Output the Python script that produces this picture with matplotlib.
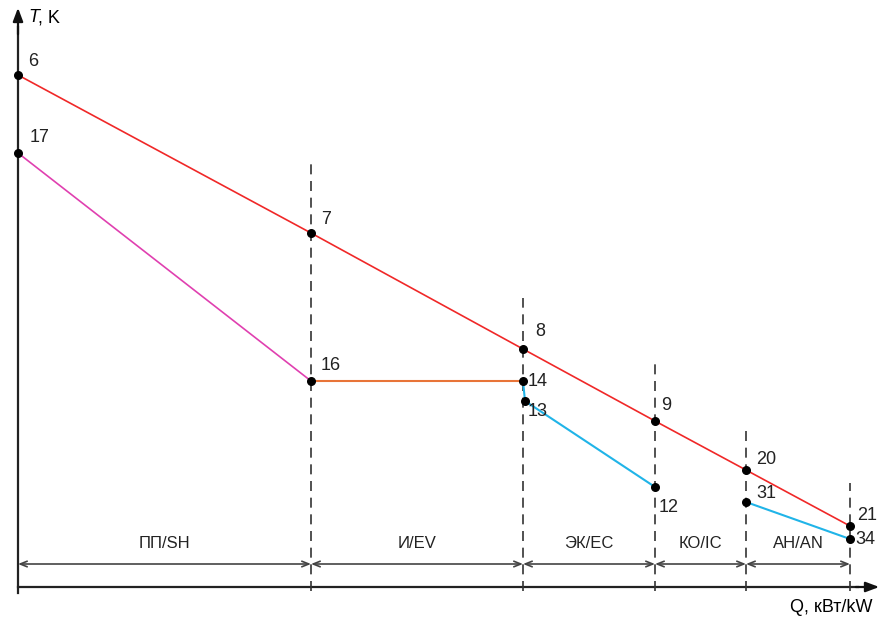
import matplotlib.pyplot as plt

plt.rcParams['font.family'] = ['Liberation Sans Narrow', 'Liberation Sans', 'DejaVu Sans']

# section boundaries along Q and section names
q_bounds = [0, 293, 505, 637, 728, 832]
sections = ['ПП/SH', 'И/EV', 'ЭК/EC', 'КО/IC', 'АН/AN']
dash_top = [427, 289, 224, 159, 104]   # upper end of each dashed boundary line

# hot gas line 6-7-8-9-20-21
gas_q = [0, 293, 505, 637, 728, 832]
gas_t = [512, 354, 238, 166, 117, 61]
gas_lbl = ['6', '7', '8', '9', '20', '21']

# steam/water lines
sh_q, sh_t = [0, 293], [434, 206]            # 17-16
ev_q, ev_t = [293, 505], [206, 206]          # 16-14
ec_q, ec_t = [505, 507, 637], [206, 186, 100]  # 14-13-12
an_q, an_t = [728, 832], [85, 48]            # 31-34

pts = {'17': (0, 434), '16': (293, 206), '14': (505, 206), '13': (507, 186),
       '12': (637, 100), '31': (728, 85), '34': (832, 48)}
offs = {'6': (10, 14), '7': (10, 14), '8': (12, 18), '9': (6, 16), '20': (10, 10),
        '21': (7, 10), '17': (12, 16), '16': (10, 16), '14': (5, 0), '13': (3, -10),
        '12': (4, -20), '31': (10, 8), '34': (5, -1)}

fig = plt.figure(figsize=(8.83, 6.3), dpi=100)
ax = fig.add_axes([0, 0, 1, 1])
ax.set_xlim(-18, 865)
ax.set_ylim(-43, 587)
ax.axis('off')

# axes with arrows
ax.plot([0, 0], [-6, 560], color='#222', lw=1.6)
ax.annotate('', xy=(0, 582), xytext=(0, 550),
            arrowprops=dict(arrowstyle='-|>,head_length=0.8,head_width=0.3', color='#111', lw=1.6))
ax.plot([0, 840], [0, 0], color='#222', lw=1.6)
ax.annotate('', xy=(864, 0), xytext=(835, 0),
            arrowprops=dict(arrowstyle='-|>,head_length=0.8,head_width=0.3', color='#111', lw=1.6))
ax.text(10, 569, 'T', style='italic', fontsize=13, va='center')
ax.text(20, 569, ', K', fontsize=13, va='center')
ax.text(772, -20, 'Q, кВт/kW', fontsize=13, va='center')

# section boundaries
for q, top in zip(q_bounds[1:], dash_top):
    ax.plot([q, q], [-4, top], color='#333', lw=1.2, dashes=(6, 4))

# dimension arrows with section names
for i, name in enumerate(sections):
    a, b = q_bounds[i], q_bounds[i + 1]
    ax.annotate('', xy=(b, 23), xytext=(a, 23),
                arrowprops=dict(arrowstyle='<->,head_length=0.5,head_width=0.2',
                                color='#444', lw=1.2, shrinkA=0, shrinkB=0))
    ax.text((a + b) / 2, 44, name, fontsize=12, ha='center', va='center', color='#222')

# process lines
ax.plot(gas_q, gas_t, color='#f02828', lw=1.2)
ax.plot(sh_q, sh_t, color='#e040b0', lw=1.2)
ax.plot(ev_q, ev_t, color='#e87438', lw=1.5)
ax.plot(ec_q, ec_t, color='#20b4e8', lw=1.5)
ax.plot(an_q, an_t, color='#20b4e8', lw=1.5)

all_q = gas_q + [p[0] for p in pts.values()]
all_t = gas_t + [p[1] for p in pts.values()]
all_l = gas_lbl + list(pts.keys())
ax.scatter(all_q, all_t, s=30, color='black', zorder=5)
for q, t, l in zip(all_q, all_t, all_l):
    dx, dy = offs[l]
    ax.text(q + dx, t + dy, l, fontsize=13, ha='left', va='center', color='#222')

fig.savefig('out.png', dpi=100)
